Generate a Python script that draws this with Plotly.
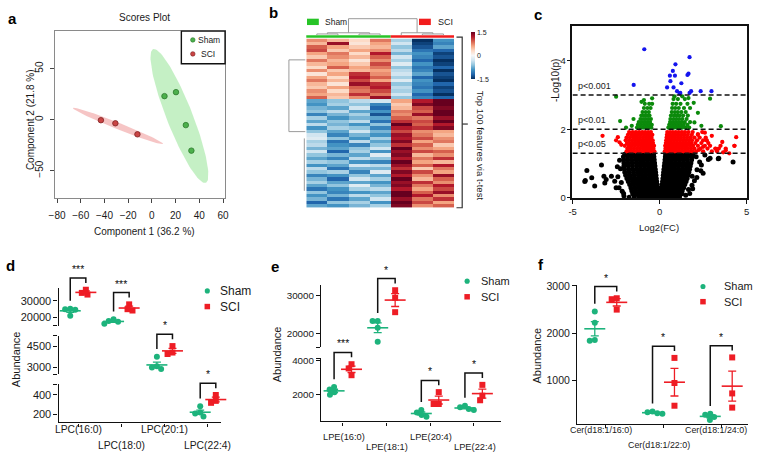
import numpy as np
import plotly.graph_objects as go

W, H = 758, 458
FONT = "Arial, 'Liberation Sans', sans-serif"
INK = "#1a1a1a"


def PX(x):
    return x / W


def PY(y):
    return 1 - y / H


# ===================== DATA =====================
# ---- a: PLS-DA scores
sham_pc1 = [10.6, 20.3, 28.6, 33.3]
sham_pc2 = [23.0, 26.9, -5.4, -30.4]
sci_pc1 = [-43.0, -30.8, -12.2]
sci_pc2 = [-0.6, -3.6, -14.4]
pc_ticks_x = [-80, -60, -40, -20, 0, 20, 40, 60]
pc_ticks_y = [-50, 0, 50]

# ---- b: heatmap of top features (z-score x10); 4 Sham + 3 SCI columns
hm_groups = ["Sham", "Sham", "Sham", "Sham", "SCI", "SCI", "SCI"]
hm_rows = [
    "7 5 3 8 -5 -15 -9", "5 13 2 6 -3 -14 -10", "9 6 4 5 -6 -13 -8",
    "10 4 6 7 -4 -11 -12", "6 8 3 12 -7 -9 -14", "4 7 5 9 -3 -10 -13",
    "8 5 2 7 -5 -12 -15", "5 6 4 10 -2 -9 -14", "3 9 6 8 -6 -11 -12",
    "7 4 5 6 -4 -10 -15", "2 6 11 7 -3 -8 -13", "6 3 12 9 -5 -12 -14",
    "8 5 10 6 -2 -9 -15", "5 2 13 11 -6 -10 -12", "4 6 9 12 -4 -11 -14",
    "7 3 8 10 -5 -9 -13", "6 5 11 8 -3 -12 -15", "9 4 7 13 -6 -10 -12",
    "-8 -6 -4 -3 6 12 15", "-9 -5 -6 -10 4 14 16", "-7 -8 -3 -12 5 10 14",
    "-6 -4 -8 -9 8 9 15", "-10 -7 -5 -13 7 13 16", "-5 -9 -7 -8 9 8 13",
    "-8 -6 -4 -11 11 10 15", "-4 -7 -9 -6 15 9 12", "-9 -5 -6 -10 12 11 14",
    "-6 -8 -3 -7 10 7 6", "-3 -10 -7 -9 13 8 5", "-2 -6 -9 -5 12 10 7",
    "-5 -11 -4 -8 14 6 8", "-4 -9 -10 -6 11 9 4", "-7 -8 -6 -3 15 7 6",
    "-3 -12 -5 -9 13 10 9", "-6 -7 -8 -2 14 5 7", "-8 -10 -4 -6 12 8 11",
    "-5 -6 -9 -10 15 6 5", "-9 -8 -3 -4 13 9 12", "-4 -11 -7 -7 11 4 8",
    "-6 -5 -10 -2 14 10 6", "-10 -9 -6 -8 12 7 13", "-7 -12 -3 -5 15 5 9",
    "-5 -8 -8 -9 13 11 7", "-8 -6 -2 -7 14 8 12", "-11 -9 -5 -4 12 6 10",
    "-6 -10 -9 -8 16 9 13", "-9 -7 -4 -6 15 12 7", "-7 -11 -8 -3 13 8 11",
    "-12 -6 -5 -9 16 10 6", "-8 -9 -7 -5 14 7 9",
]
hm_ticks = [-1.5, 0, 1.5]
# column dendrogram merges (left node, right node, height); leaves 0..6
col_merges = [(0, 1, 0.5), (2, 3, 0.5), (7, 8, 1.0), (5, 6, 0.5), (4, 10, 1.0), (9, 11, 7.0)]
# row dendrogram: two clusters joined at the root
row_top_node, row_bottom_node, row_root_h = 5.8, 27.0, 1.0
row_sub = (29.0, 44.5, 0.06)

# ---- c: volcano plot  (y = -log10 p : x = log2 FC values)
vol_black_rows = {
    0.04: "-1.45 -1.2 -1.0 -0.8 -0.62 -0.45 -0.28 -0.1 0.08 0.25 0.42 0.6 0.8 1.0 1.15",
    0.12: "-1.55 -1.32 -1.1 -0.9 -0.7 -0.52 -0.35 -0.18 0.0 0.18 0.35 0.52 0.7 0.9 1.1 1.28",
    0.21: "-1.6 -1.38 -1.15 -0.95 -0.75 -0.56 -0.38 -0.2 -0.03 0.15 0.32 0.5 0.68 0.88 1.08 1.3",
    0.30: "-1.65 -1.42 -1.2 -1.0 -0.8 -0.6 -0.42 -0.25 -0.1 0.1 0.26 0.44 0.62 0.82 1.02 1.22 1.38",
    0.39: "-1.72 -1.5 -1.28 -1.06 -0.85 -0.65 -0.46 -0.28 -0.14 0.14 0.3 0.48 0.66 0.86 1.06 1.26 1.45",
    0.48: "-1.8 -1.56 -1.34 -1.12 -0.9 -0.7 -0.5 -0.32 -0.17 0.17 0.34 0.52 0.72 0.92 1.12 1.32 1.52",
    0.57: "-1.88 -1.64 -1.4 -1.18 -0.96 -0.75 -0.55 -0.36 -0.19 0.19 0.37 0.56 0.76 0.96 1.16 1.36 1.58",
    0.66: "-1.95 -1.7 -1.46 -1.22 -1.0 -0.8 -0.58 -0.38 -0.21 0.21 0.4 0.6 0.8 1.0 1.2 1.42 1.63",
    0.75: "-2.0 -1.75 -1.5 -1.26 -1.04 -0.82 -0.6 -0.4 -0.23 0.23 0.42 0.62 0.83 1.04 1.25 1.46 1.68",
    0.84: "-2.02 -1.78 -1.54 -1.3 -1.08 -0.86 -0.64 -0.43 -0.25 0.25 0.44 0.65 0.86 1.08 1.3 1.5 1.72",
    0.93: "-2.05 -1.8 -1.56 -1.32 -1.1 -0.88 -0.66 -0.45 -0.27 0.27 0.46 0.67 0.88 1.1 1.32 1.54 1.76",
    1.02: "-2.05 -1.82 -1.58 -1.34 -1.12 -0.9 -0.68 -0.47 -0.29 0.29 0.48 0.7 0.92 1.14 1.36 1.58 1.8",
    1.11: "-2.06 -1.83 -1.6 -1.36 -1.13 -0.91 -0.7 -0.49 -0.31 0.31 0.5 0.72 0.94 1.16 1.38 1.6 1.84",
    1.20: "-2.08 -1.84 -1.6 -1.37 -1.14 -0.92 -0.71 -0.5 -0.33 0.33 0.52 0.74 0.96 1.18 1.4 1.62 1.86",
    1.27: "-2.0 -1.75 -1.5 -1.25 -1.02 -0.8 -0.6 -0.42 -0.35 0.35 0.45 0.65 0.86 1.08 1.3 1.52 1.75 1.92",
}
vol_black_x = [-4.18, -4.27, -3.9, -4.3, -3.73, -3.34, -3.2, -3.15, -3.07, -2.43, -2.77, -2.58,
               -2.33, -2.07, -2.3, -2.25, -2.4, -2.2, -2.5, -2.15, -2.05, -1.75,
               1.86, 2.14, 2.37, 2.8, 3.37, 4.22, 1.73, 1.66, 1.9, 2.9, 2.4, 2.15, 1.87,
               2.1, 2.3, 2.6, 2.0, 1.5, 2.5, 3.4]
vol_black_y = [0.8, 0.51, 0.59, 0.48, 0.35, 0.96, 0.63, 0.44, 0.54, 0.91, 0.63, 0.49,
               0.3, 0.13, 1.1, 0.85, 0.62, 0.45, 0.3, 0.2, 0.06, 0.02,
               0.37, 0.6, 0.79, 1.12, 1.14, 1.05, 0.13, 0.25, 0.27, 1.16, 0.96, 0.82, 0.63,
               1.2, 1.05, 1.25, 0.5, 0.08, 0.72, 1.16]
vol_red_rows = {
    1.36: "-1.9 -1.72 -1.55 -1.38 -1.2 -1.03 -0.86 -0.7 -0.54 -0.4 -0.3 0.3 0.42 0.56 0.72 0.88 1.04 1.2 1.36 1.52 1.7 1.88 2.1 2.5 3.0 3.3",
    1.44: "-1.85 -1.66 -1.48 -1.3 -1.13 -0.96 -0.8 -0.64 -0.5 -0.36 0.34 0.48 0.63 0.79 0.95 1.11 1.28 1.45 1.62 1.8 2.0 2.35 2.75 3.2 3.8",
    1.52: "-2.0 -1.78 -1.6 -1.42 -1.24 -1.06 -0.9 -0.74 -0.58 -0.44 -0.32 0.32 0.45 0.6 0.76 0.92 1.08 1.24 1.4 1.56 1.74 1.92 2.2 2.6 2.9 3.5 4.3",
    1.60: "-1.88 -1.7 -1.52 -1.34 -1.16 -0.99 -0.83 -0.67 -0.52 -0.38 0.36 0.5 0.66 0.82 0.98 1.14 1.3 1.47 1.64 1.82 2.05 2.4 2.8",
    1.68: "-1.95 -1.76 -1.58 -1.4 -1.22 -1.04 -0.87 -0.71 -0.55 -0.4 0.38 0.52 0.68 0.84 1.0 1.17 1.34 1.5 1.68 1.86 2.15 2.5 2.7",
    1.76: "-1.9 -1.7 -1.5 -1.32 -1.14 -0.96 -0.79 -0.62 -0.47 0.4 0.55 0.72 0.88 1.05 1.22 1.4 1.58 1.78 2.0 2.3 2.65",
    1.84: "-1.82 -1.62 -1.44 -1.26 -1.08 -0.9 -0.73 -0.57 -0.42 0.42 0.57 0.74 0.9 1.07 1.25 1.42 1.62 1.85 2.2",
    1.92: "-1.75 -1.55 -1.36 -1.18 -1.0 -0.83 -0.66 -0.5 0.44 0.6 0.76 0.93 1.1 1.28 1.46 1.66 1.9 2.45",
}
vol_red_x = [-3.28, -2.4, -2.5, -2.2, -2.3, 4.4, 4.3, 4.0, 3.6, 3.4, 3.0, 2.7, 2.5, 2.25,
             3.8, 3.23, 2.6, 2.2, 3.65]
vol_red_y = [1.81, 1.77, 1.68, 1.55, 1.62, 1.77, 1.52, 1.3, 1.63, 1.44, 1.81, 1.68, 1.49, 1.4,
             1.39, 1.43, 1.9, 1.86, 1.33]
vol_green_rows = {
    2.05: "-1.3 -1.12 -0.95 -0.78 -0.62 -0.48 0.5 0.66 0.82 0.98 1.14 1.3 1.5 1.7",
    2.13: "-1.25 -1.08 -0.9 -0.74 -0.58 -0.45 0.55 0.72 0.88 1.04 1.2 1.38 1.6",
    2.21: "-1.2 -1.02 -0.86 -0.7 -0.55 0.6 0.76 0.92 1.08 1.25 1.45 1.75",
    2.30: "-1.1 -0.95 -0.8 -0.65 -0.5 0.62 0.8 0.96 1.12 1.3 1.55",
    2.40: "-1.05 -0.88 -0.72 -0.58 0.65 0.82 0.98 1.15 1.35 1.62",
    2.50: "-0.98 -0.8 -0.62 0.7 0.88 1.05 1.25 1.5",
    2.62: "-0.9 -0.7 -0.52 0.72 0.9 1.1 1.4 1.75",
    2.74: "-0.85 -0.6 -0.43 0.75 0.95 1.2 1.6",
    2.88: "0.8 1.05 1.45",
    2.96: "0.85 1.3",
}
vol_green_x = [-2.5, -2.27, -1.93, -1.04, -0.9, -0.43, -1.5, -1.6, 2.9, 3.52, 2.2, 1.96, 1.66, 2.0, 2.4]
vol_green_y = [2.95, 2.24, 2.05, 2.8, 2.85, 2.9, 2.3, 2.1, 2.89, 2.09, 2.48, 2.77, 2.91, 2.2, 2.1]
vol_blue_x = [-0.88, -1.49, 1.72, 0.91, 0.76, 0.59, 0.88, 0.62, 1.25, 1.66, 1.6, 1.0, 1.15,
              1.72, 1.81, 2.36, 2.98, 0.43, 1.19, 0.8]
vol_blue_y = [4.33, 3.29, 4.1, 3.89, 3.7, 3.56, 3.56, 3.4, 3.34, 3.62, 3.58, 3.11, 3.04,
              3.06, 3.11, 3.11, 3.11, 3.22, 3.06, 3.22]
p_cutoffs = [0.001, 0.01, 0.05]
p_labels = ["p<0.001", "p<0.01", "p<0.05"]

# ---- d: LPC species
lpc_names = ["LPC(16:0)", "LPC(18:0)", "LPC(20:1)", "LPC(22:4)"]
lpc_sham = [[25200, 24900, 24600, 21000], [18800, 17800, 17300, 16200],
            [3750, 3100, 3000, 2900], [285, 220, 210, 180]]
lpc_sci = [[36600, 34700, 33700], [27800, 24900, 24100],
           [4500, 4050, 3950], [400, 340, 320]]
lpc_stars = ["***", "***", "*", "*"]
# ---- e: LPE species
lpe_names = ["LPE(16:0)", "LPE(18:1)", "LPE(20:4)", "LPE(22:4)"]
lpe_sham = [[2450, 2300, 2150, 2000], [23300, 23300, 21500, 17800],
            [1100, 950, 800, 700], [1350, 1250, 1150, 1100]]
lpe_sci = [[3800, 3550, 3150], [31400, 29400, 25600],
           [2150, 1450, 1450], [2580, 1940, 1670]]
lpe_stars = ["***", "*", "*", "*"]
# ---- f: ceramides
cer_names = ["Cer(d18:1/16:0)", "Cer(d18:1/22:0)", "Cer(d18:1/24:0)"]
cer_sham = [[2460, 2220, 1860, 1840], [350, 330, 310, 300], [300, 280, 230, 170]]
cer_sci = [[2740, 2720, 2500], [1480, 950, 470], [1490, 730, 430]]
cer_stars = ["*", "*", "*"]

group_names = ["Sham", "SCI"]

# ===================== STYLE =====================
C_SHAM = "#1db37c"
C_SCI = "#ee1d25"

fig = go.Figure()
shapes = []
annotations = []
layout_axes = {}


def ann(text, x, y, size, color=INK, xanchor="center", yanchor="middle", angle=0, bold=False,
        xref="paper", yref="paper", **kw):
    if bold:
        text = "<b>%s</b>" % text
    annotations.append(dict(text=text, x=x if xref != "paper" else PX(x),
                            y=y if yref != "paper" else PY(y), xref=xref, yref=yref,
                            showarrow=False, textangle=angle, xanchor=xanchor, yanchor=yanchor,
                            font=dict(family=FONT, size=size, color=color), **kw))


def path_px(pts, color=INK, width=1.2):
    d = "M " + " L ".join("%.5f,%.5f" % (PX(x), PY(y)) for x, y in pts)
    shapes.append(dict(type="path", xref="paper", yref="paper", path=d,
                       line=dict(color=color, width=width), layer="above"))


def panel_letter(t, x, y):
    ann(t, x, y, 15, bold=True, color="#000")


# ===================== PANEL a =====================
A_X, A_Y = (49.3, 222.0), (26.7, 197.3)


def conf_ellipse(x, y):
    x = np.asarray(x, float)
    y = np.asarray(y, float)
    cov = np.cov(x, y)
    vals, vecs = np.linalg.eigh(cov)
    t = np.linspace(0, 2 * np.pi, 120)
    k = np.sqrt(5.991)
    circ = np.vstack([np.cos(t), np.sin(t)])
    pts = vecs @ (np.sqrt(vals)[:, None] * k * circ)
    return x.mean() + pts[0], y.mean() + pts[1]


for px_, py_, fillc in [(sham_pc1, sham_pc2, "rgba(150,228,150,0.55)"),
                        (sci_pc1, sci_pc2, "rgba(238,140,140,0.5)")]:
    ex, ey = conf_ellipse(px_, py_)
    fig.add_trace(go.Scatter(x=ex, y=ey, mode="lines", fill="toself", fillcolor=fillc,
                             line=dict(width=0), hoverinfo="skip", xaxis="x", yaxis="y"))
fig.add_trace(go.Scatter(x=sham_pc1, y=sham_pc2, mode="markers", xaxis="x", yaxis="y",
                         marker=dict(size=5.5, color="#4cb04c", line=dict(width=0.8, color="#2c7a2c"))))
fig.add_trace(go.Scatter(x=sci_pc1, y=sci_pc2, mode="markers", xaxis="x", yaxis="y",
                         marker=dict(size=5.5, color="#c94444", line=dict(width=0.8, color="#7d2222"))))

axA = dict(showgrid=False, zeroline=False, showline=True, mirror=True, linecolor="#8a8a8a",
           linewidth=1, ticks="outside", ticklen=4, tickcolor="#444",
           tickfont=dict(family=FONT, size=10, color=INK))
layout_axes["xaxis"] = dict(axA, domain=[PX(A_X[0]), PX(A_X[1])], range=[-82, 61.7],
                            tickvals=pc_ticks_x, anchor="y", ticklabelstandoff=4)
layout_axes["yaxis"] = dict(axA, domain=[PY(A_Y[1]), PY(A_Y[0])], range=[-76.8, 86.7],
                            tickvals=pc_ticks_y, anchor="x", tickangle=-90, ticklabelstandoff=3)
ann("Scores Plot", 140, 13, 10)
ann("Component 1 (36.2 %)", 140, 232, 10)
ann("Component 2 (21.8 %)", 25, 117, 10, angle=-90)
panel_letter("a", 7, 14)
# legend box
shapes.append(dict(type="rect", xref="paper", yref="paper", x0=PX(177.7), x1=PX(222),
                   y0=PY(60), y1=PY(26.7), line=dict(color="#111", width=1.4), layer="above"))
for (cy, fc, lc, lbl) in [(35.7, "#4cb04c", "#2c7a2c", "Sham"), (50, "#c94444", "#7d2222", "SCI")]:
    shapes.append(dict(type="circle", xref="paper", yref="paper", x0=PX(187), x1=PX(191.6),
                       y0=PY(cy + 2.3), y1=PY(cy - 2.3), fillcolor=fc, line=dict(color=lc, width=0.6)))
    ann(lbl, 193 if lbl == "Sham" else 195.5, cy, 8.5, xanchor="left")

# ===================== PANEL b =====================
B_X, B_Y = (304.3, 454.0), (34.3, 207.3)
Z = [[int(v) / 10 for v in r.split()] for r in hm_rows]
nrow, ncol = len(Z), len(hm_groups)
rdbu = [[0.0, "#053061"], [0.1, "#2166ac"], [0.2, "#4393c3"], [0.3, "#92c5de"],
        [0.4, "#d1e5f0"], [0.5, "#f7f7f7"], [0.6, "#fddbc7"], [0.7, "#f4a582"],
        [0.8, "#d6604d"], [0.9, "#b2182b"], [1.0, "#67001f"]]
fig.add_trace(go.Heatmap(z=Z, x=list(range(ncol)), y=list(range(nrow)), zmin=-1.5, zmax=1.5,
                         colorscale=rdbu, xaxis="x2", yaxis="y2",
                         colorbar=dict(x=PX(471.5), xanchor="left", y=PY(28), yanchor="top",
                                       len=47, lenmode="pixels", thickness=4, xpad=0, ypad=0,
                                       outlinewidth=0, tickvals=hm_ticks,
                                       ticktext=[str(v) for v in hm_ticks], ticks="",
                                       tickfont=dict(family=FONT, size=7, color=INK))))
layout_axes["xaxis2"] = dict(domain=[PX(B_X[0]), PX(B_X[1])], range=[-0.5, ncol - 0.5],
                             visible=False, anchor="y2")
layout_axes["yaxis2"] = dict(domain=[PY(B_Y[1]), PY(B_Y[0])], range=[nrow - 0.5, -0.5],
                             visible=False, anchor="x2")


def hm_x(c):
    return B_X[0] + (c + 0.5) / ncol * (B_X[1] - B_X[0])


def hm_y(r):
    return B_Y[0] + (r + 0.5) / nrow * (B_Y[1] - B_Y[0])


# group colour bars
for g, col in [("Sham", "#27c427"), ("SCI", "#f21c1c")]:
    idx = [i for i, gg in enumerate(hm_groups) if gg == g]
    shapes.append(dict(type="rect", xref="paper", yref="paper", x0=PX(hm_x(min(idx) - 0.5)),
                       x1=PX(hm_x(max(idx) + 0.5)), y0=PY(33.5), y1=PY(30.8),
                       fillcolor=col, line=dict(width=0)))
# legend
shapes.append(dict(type="rect", xref="paper", yref="paper", x0=PX(305), x1=PX(317), y0=PY(20.5),
                   y1=PY(14), fillcolor="#27c427", line=dict(width=0)))
shapes.append(dict(type="rect", xref="paper", yref="paper", x0=PX(418.5), x1=PX(430.5), y0=PY(20.5),
                   y1=PY(14), fillcolor="#f21c1c", line=dict(width=0)))
ann("Sham", 321.5, 17.3, 8.5, xanchor="left")
ann("SCI", 436, 17.3, 9, xanchor="left")
# column dendrogram
node_x = {i: hm_x(i) for i in range(ncol)}
node_h = {i: 0.0 for i in range(ncol)}
DEN_BASE, DEN_SCALE = 30.8, (30.8 - 14.0) / 7.0
for k, (a, b, h) in enumerate(col_merges):
    nid = ncol + k
    xa, xb = node_x[a], node_x[b]
    path_px([(xa, DEN_BASE - node_h[a] * DEN_SCALE), (xa, DEN_BASE - h * DEN_SCALE),
             (xb, DEN_BASE - h * DEN_SCALE), (xb, DEN_BASE - node_h[b] * DEN_SCALE)],
            color="#9a9a9a", width=1)
    node_x[nid] = (xa + xb) / 2
    node_h[nid] = h
# row dendrogram
RDEN_BASE, RDEN_SCALE = B_X[0] - 1, 16.6
rx = RDEN_BASE - row_root_h * RDEN_SCALE
path_px([(RDEN_BASE, hm_y(row_top_node)), (rx, hm_y(row_top_node)),
         (rx, hm_y(row_bottom_node)), (RDEN_BASE, hm_y(row_bottom_node))], color="#9a9a9a", width=1)
sx = RDEN_BASE - row_sub[2] * RDEN_SCALE
path_px([(sx, hm_y(row_sub[0])), (sx, hm_y(row_sub[1]))], color="#9a9a9a", width=1)
# right curly bracket
bx = 462.3
path_px([(456.5, B_Y[0] - 1.5), (bx, B_Y[0] - 1.5), (bx, B_Y[1]), (456.5, B_Y[1])], color="#333", width=1.2)
path_px([(bx, 121.7), (468, 121.7)], color="#333", width=1.2)
ann("Top 100 features via t-test", 481, 143.5, 9.5, angle=90)
panel_letter("b", 271, 8)

# ===================== PANEL c =====================
C_X, C_Y = (574.0, 750.7), (21.7, 197.3)


def rows_to_xy(rows, ex, ey):
    xs, ys = [], []
    for yv, s in rows.items():
        for v in s.split():
            xs.append(float(v))
            ys.append(yv)
    return xs + list(ex), ys + list(ey)


for rows, ex, ey, col, sz in [(vol_black_rows, vol_black_x, vol_black_y, "#000000", 5),
                              (vol_red_rows, vol_red_x, vol_red_y, "#ff0000", 4.3),
                              (vol_green_rows, vol_green_x, vol_green_y, "#0b8a0b", 4.2),
                              ({}, vol_blue_x, vol_blue_y, "#1414ee", 4.2)]:
    xs, ys = rows_to_xy(rows, ex, ey)
    fig.add_trace(go.Scatter(x=xs, y=ys, mode="markers", xaxis="x3", yaxis="y3",
                             marker=dict(size=sz, color=col, line=dict(width=0))))
axC = dict(showgrid=False, zeroline=False, showline=True, mirror=True, linecolor="#111",
           linewidth=1.5, ticks="outside", ticklen=4, tickwidth=1.3, tickcolor="#111",
           ticklabeloverflow="allow", tickfont=dict(family=FONT, size=9.5, color=INK))
layout_axes["xaxis3"] = dict(axC, domain=[PX(C_X[0]), PX(C_X[1])], range=[-5.01, 5.01],
                             tickvals=[-5, 0, 5], ticktext=["-5", "0", "5"], anchor="y3")
layout_axes["yaxis3"] = dict(axC, domain=[PY(C_Y[1]), PY(C_Y[0])], range=[0, 5],
                             tickvals=[0, 2, 4], anchor="x3", ticklabelstandoff=-1)
for p, lbl in zip(p_cutoffs, p_labels):
    yv = -np.log10(p)
    shapes.append(dict(type="line", xref="x3", yref="y3", x0=-5, x1=5, y0=yv, y1=yv,
                       line=dict(color="#111", width=1.4, dash="5px,3px"), layer="above"))
    ann(lbl, -4.82, yv, 9, xanchor="left", yanchor="bottom", xref="x3", yref="y3", yshift=2)
ann("Log2(FC)", 662, 227, 9.5)
ann("-Log10(p)", 557, 77, 10, angle=-90)
panel_letter("c", 539, 10)

# ===================== PANELS d, e, f =====================
panels = [
    dict(letter="d", lpos=(5, 266), x="xaxis4", xdom=(53.3, 218.0), xrng=(-0.449, 3.303), off=0.18,
         segs=[dict(y="yaxis4", dom=(289.3, 327.7), rng=(15060, 37650), ticks=[20000, 30000], caps=["lo"]),
               dict(y="yaxis5", dom=(338.3, 377.7), rng=(2523, 5209), ticks=[3000, 4500], caps=["lo", "hi"]),
               dict(y="yaxis6", dom=(387.7, 426.7), rng=(120, 510), ticks=[200, 400], caps=["hi"])],
         cat_seg=[0, 0, 1, 2], names=lpc_names, sham=lpc_sham, sci=lpc_sci, stars=lpc_stars,
         label_y=(434.0, 450.0), label_dx=0, label_size=10.3, tick_size=11, ytitle=(9.5, 361.7),
         leg=(204, 292.3, 308.3, 215, 12)),
    dict(letter="e", lpos=(273, 267), x="xaxis5", xdom=(319.3, 501.7), xrng=(-0.498, 3.629), off=0.2,
         segs=[dict(y="yaxis7", dom=(286.0, 350.0), rng=(16300, 32850), ticks=[20000, 30000], caps=["lo"]),
               dict(y="yaxis8", dom=(361.0, 425.7), rng=(420, 4160), ticks=[2000, 4000], caps=["hi"])],
         cat_seg=[1, 0, 1, 1], names=lpe_names, sham=lpe_sham, sci=lpe_sci, stars=lpe_stars,
         label_y=(441.5, 451.5), label_dx=1, label_size=9.3, tick_size=9.8, ytitle=(275, 356.7),
         leg=(467.3, 282.3, 298.3, 479.3, 11)),
    dict(letter="f", lpos=(542, 265), x="xaxis6", xdom=(578.7, 751.7), xrng=(-0.497, 2.46), off=0.19,
         segs=[dict(y="yaxis9", dom=(286.0, 428.3), rng=(85, 3025), ticks=[1000, 2000, 3000], caps=[])],
         cat_seg=[0, 0, 0], names=cer_names, sham=cer_sham, sci=cer_sci, stars=cer_stars,
         label_y=(434.0, 450.0), label_dx=-5, label_size=8.9, tick_size=10.5, ytitle=(538.5, 358),
         leg=(706.3, 287.7, 303.3, 726, 11)),
]


def swarm_offsets(vals, ppv, diam):
    order = sorted(range(len(vals)), key=lambda i: -vals[i])
    placed, offs = [], [0.0] * len(vals)
    for i in order:
        yp = vals[i] * ppv
        cands = [0.0]
        for xj, yj in placed:
            dy = abs(yp - yj)
            if dy < diam:
                dx = (diam ** 2 - dy ** 2) ** 0.5
                cands += [xj + dx, xj - dx]
        cands.sort(key=lambda c: (abs(c), c))
        choice = 0.0
        for c in cands:
            if all((c - xj) ** 2 + (yp - yj) ** 2 >= diam ** 2 - 1e-6 for xj, yj in placed):
                choice = c
                break
        offs[i] = choice
        placed.append((choice, yp))
    return offs


AX_LINE = dict(showgrid=False, zeroline=False, showline=True, linecolor="#111", linewidth=1.3,
               ticks="outside", ticklen=4, tickwidth=1.3, tickcolor="#111")

for P in panels:
    xid = P["x"].replace("axis", "")
    x0p, x1p = P["xdom"]
    r0, r1 = P["xrng"]
    ppx = (x1p - x0p) / (r1 - r0)
    bottom_seg = P["segs"][-1]
    layout_axes[P["x"]] = dict(AX_LINE, domain=[PX(x0p), PX(x1p)], range=list(P["xrng"]),
                               tickvals=list(range(len(P["names"]))), showticklabels=False,
                               ticklen=3, anchor=bottom_seg["y"].replace("axis", ""))
    for s in P["segs"]:
        lo, hi = s["rng"]
        span = hi - lo
        tv, tt = list(s["ticks"]), [str(t) for t in s["ticks"]]
        if "lo" in s["caps"]:
            tv.append(lo + span * 0.002)
            tt.append("")
        if "hi" in s["caps"]:
            tv.append(hi - span * 0.002)
            tt.append("")
        layout_axes[s["y"]] = dict(AX_LINE, domain=[PY(s["dom"][1]), PY(s["dom"][0])],
                                   range=[lo, hi], tickvals=tv, ticktext=tt, anchor=xid,
                                   tickfont=dict(family=FONT, size=P["tick_size"], color=INK))

    def ypix(s, v):
        top, bot = s["dom"]
        lo, hi = s["rng"]
        return bot - (v - lo) / (hi - lo) * (bot - top)

    def xpix(xv):
        return x0p + (xv - r0) * ppx

    for ci, name in enumerate(P["names"]):
        s = P["segs"][P["cat_seg"][ci]]
        yid = s["y"].replace("axis", "")
        ppv = (s["dom"][1] - s["dom"][0]) / (s["rng"][1] - s["rng"][0])
        tops = []
        for gi, (vals, col, sym) in enumerate([(P["sham"][ci], C_SHAM, "circle"),
                                               (P["sci"][ci], C_SCI, "square")]):
            xc = ci + (-P["off"] if gi == 0 else P["off"])
            offs = swarm_offsets(vals, ppv, 5.2)
            fig.add_trace(go.Scatter(x=[xc + o / ppx for o in offs], y=vals, mode="markers",
                                     xaxis=xid, yaxis=yid, cliponaxis=False,
                                     marker=dict(size=6, symbol=sym, color=col, line=dict(width=0))))
            m = float(np.mean(vals))
            sem = float(np.std(vals, ddof=1) / np.sqrt(len(vals)))
            fig.add_trace(go.Scatter(x=[xc], y=[m], mode="markers", xaxis=xid, yaxis=yid,
                                     cliponaxis=False,
                                     marker=dict(symbol="line-ew", size=15, color=col,
                                                 line=dict(width=1.6, color=col)),
                                     error_y=dict(type="data", array=[sem], color=col,
                                                  thickness=1.3, width=4)))
            tops.append((xpix(xc), min(ypix(s, max(vals)), ypix(s, m + sem)) - 3))
        (xl, tl), (xr, tr) = tops
        le, re = tl - 5, tr - 4
        yt = min(le, re) - 5
        path_px([(xl, le), (xl, yt), (xr, yt), (xr, re)], color="#111", width=1.5)
        ann(P["stars"][ci], (xl + xr) / 2, yt - 1, 10.5, yanchor="bottom", color="#111")
        ann(name, xpix(ci) + P["label_dx"], P["label_y"][ci % 2], P["label_size"])
    ann("Abundance", P["ytitle"][0], P["ytitle"][1], 11, angle=-90)
    panel_letter(P["letter"], *P["lpos"])
    lx, ly1, ly2, tx, fs = P["leg"]
    shapes.append(dict(type="circle", xref="paper", yref="paper", x0=PX(lx - 2.6), x1=PX(lx + 2.6),
                       y0=PY(ly1 + 2.6), y1=PY(ly1 - 2.6), fillcolor=C_SHAM, line=dict(width=0)))
    shapes.append(dict(type="rect", xref="paper", yref="paper", x0=PX(lx - 2.8), x1=PX(lx + 2.8),
                       y0=PY(ly2 + 2.8), y1=PY(ly2 - 2.8), fillcolor=C_SCI, line=dict(width=0)))
    ann(group_names[0], tx, ly1, fs, xanchor="left")
    ann(group_names[1], tx, ly2, fs, xanchor="left")

fig.update_layout(width=W, height=H, margin=dict(l=0, r=0, t=0, b=0), showlegend=False,
                  plot_bgcolor="white", paper_bgcolor="white",
                  font=dict(family=FONT, size=10, color=INK),
                  shapes=shapes, annotations=annotations, **layout_axes)
fig.write_html("out.html", config={"displayModeBar": False},
               post_script="document.body.style.margin='0px';document.body.style.overflow='hidden';")
